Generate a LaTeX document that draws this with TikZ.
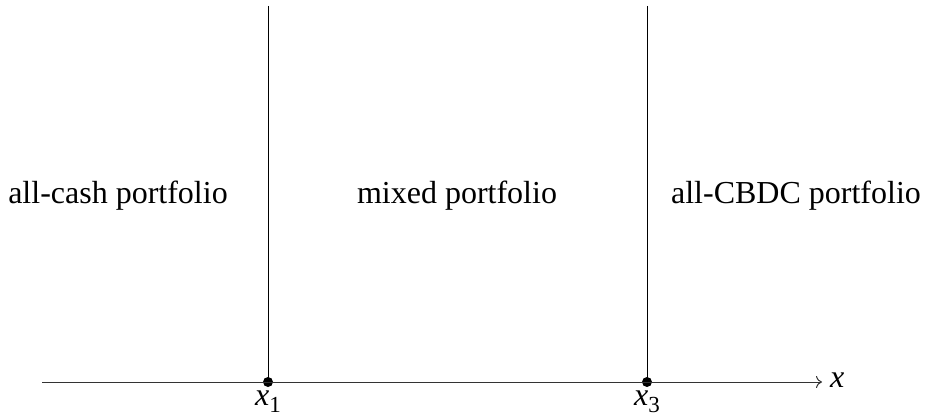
\documentclass[tikz,border=0pt]{standalone}
\usepackage{fontspec}
\setmainfont{Liberation Serif}
\usetikzlibrary{arrows.meta}
\newcommand{\xsub}[1]{\textit{x}\raisebox{-0.22em}{\fontsize{23}{23}\selectfont #1}}
\begin{document}
\begin{tikzpicture}[x=1pt,y=-1pt,
  lbl/.style={font=\fontsize{32}{38}\selectfont, inner sep=0pt, anchor=center},
  bnd/.style={line width=1pt, black},
  dot/.style={circle, fill=black, inner sep=0pt, minimum size=10pt}]
\useasboundingbox (0,0) rectangle (926,417);
\coordinate (start) at (42,382);
\coordinate (end) at (822,382);
\node[dot] (p1) at (268,382) {};
\node[dot] (p3) at (647,382) {};
\coordinate (t1) at (268,6);
\coordinate (t3) at (647,6);
\draw[bnd] (t1) -- (p1.center);
\draw[bnd] (t3) -- (p3.center);
\draw[line width=1pt, black!80, -{To[length=6pt,width=12pt]}] (start) -- (end);
\node[lbl, anchor=west] (xl) at (830,380) {\textit{x}};
\node[lbl] (l1) at (268,401.5) {\xsub{1}};
\node[lbl] (l3) at (647,401.5) {\xsub{3}};
\node[lbl] (a) at (118,196) {all-cash portfolio};
\node[lbl] (b) at (457,196) {mixed portfolio};
\node[lbl] (c) at (796,196) {all-CBDC portfolio};
\end{tikzpicture}
\end{document}
